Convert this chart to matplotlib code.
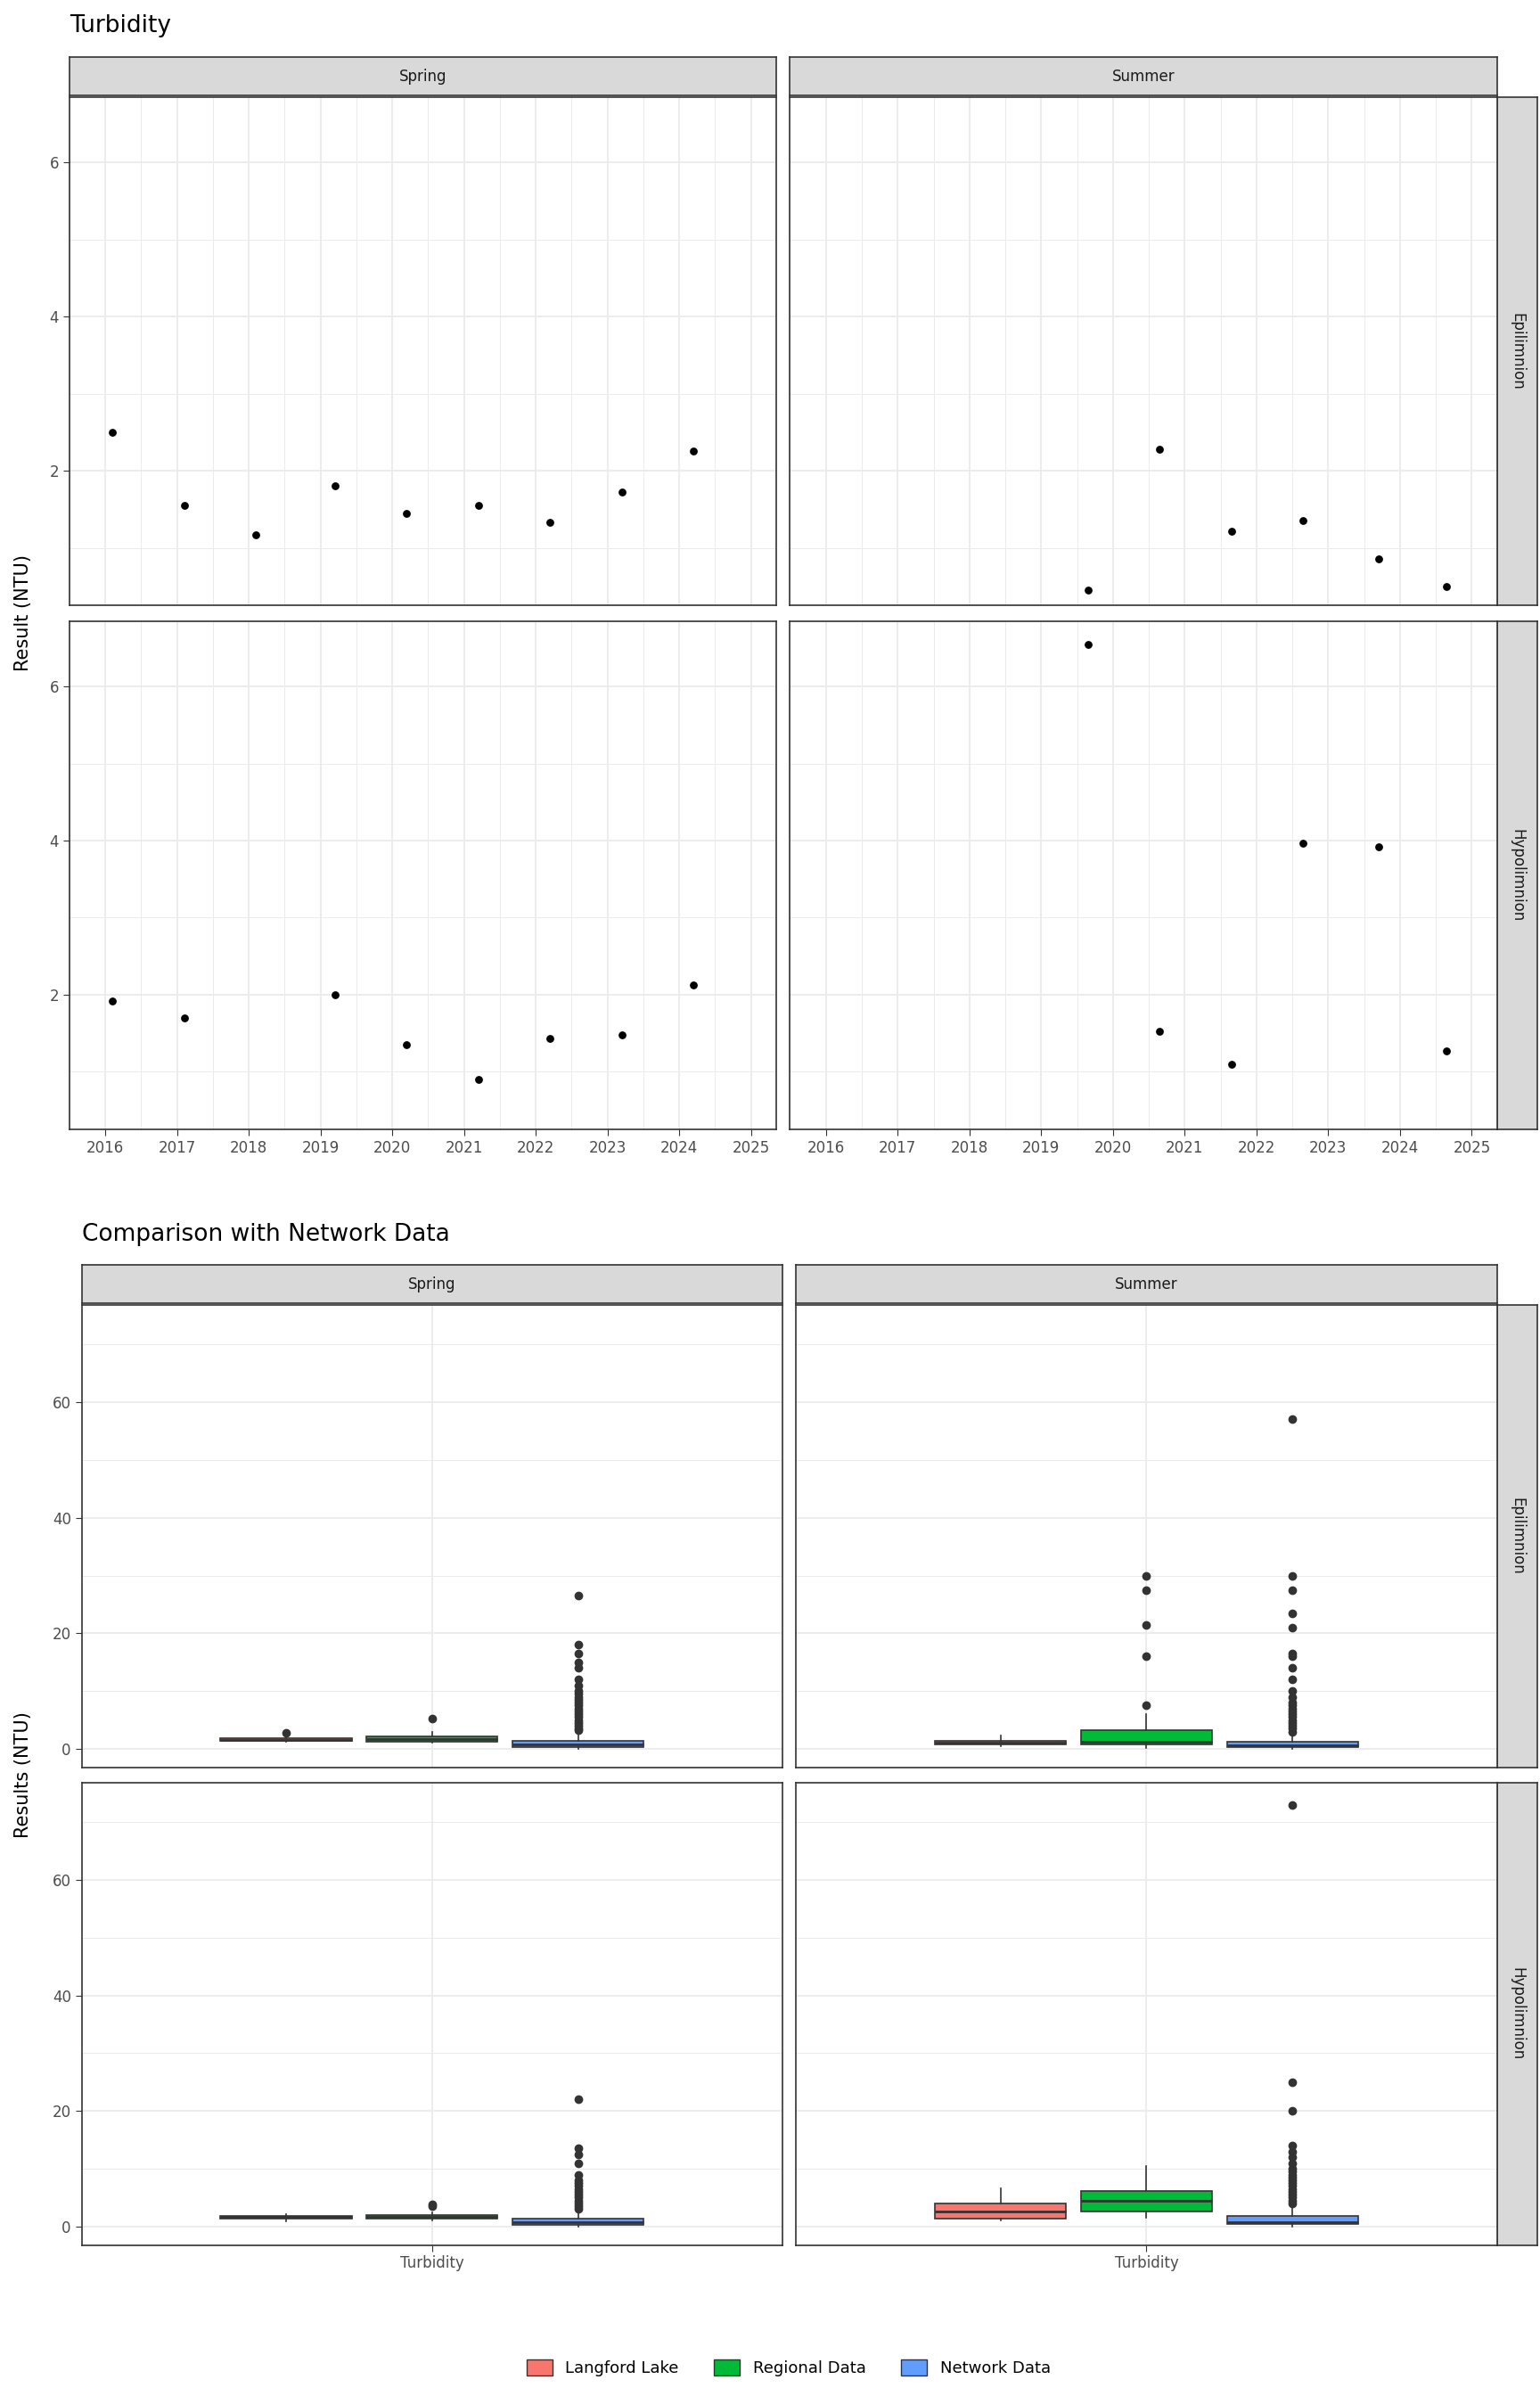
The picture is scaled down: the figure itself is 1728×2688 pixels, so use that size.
import matplotlib
matplotlib.use("Agg")
import matplotlib.pyplot as plt
from matplotlib.patches import Patch, Rectangle

# ---------------- data ----------------
seasons = ["Spring", "Summer"]
layers = ["Epilimnion", "Hypolimnion"]
year_ticks = [2016, 2017, 2018, 2019, 2020, 2021, 2022, 2023, 2024, 2025]

spring_epi_x = [2016.1, 2017.1, 2018.1, 2019.2, 2020.2, 2021.2, 2022.2, 2023.2, 2024.2]
spring_epi_y = [2.5, 1.55, 1.17, 1.8, 1.45, 1.55, 1.33, 1.72, 2.25]
summer_epi_x = [2019.65, 2020.65, 2021.65, 2022.65, 2023.7, 2024.65]
summer_epi_y = [0.45, 2.28, 1.22, 1.35, 0.85, 0.5]
spring_hypo_x = [2016.1, 2017.1, 2019.2, 2020.2, 2021.2, 2022.2, 2023.2, 2024.2]
spring_hypo_y = [1.92, 1.7, 2.0, 1.35, 0.9, 1.43, 1.48, 2.12]
summer_hypo_x = [2019.65, 2020.65, 2021.65, 2022.65, 2023.7, 2024.65]
summer_hypo_y = [6.55, 1.52, 1.1, 3.97, 3.92, 1.27]

groups = ["Langford Lake", "Regional Data", "Network Data"]
group_colors = ["#F8766D", "#00BA38", "#619CFF"]

# (whislo, q1, med, q3, whishi, outliers) per group, per panel
box_spring_epi = [
    (1.2, 1.4, 1.6, 1.8, 2.0, [2.7]),
    (1.0, 1.3, 1.7, 2.2, 3.0, [5.3]),
    (0.0, 0.3, 0.7, 1.4, 3.0, [3.2, 3.6, 4.0, 4.5, 5, 5.5, 6, 6.5, 7, 7.5, 8, 8.5, 9, 9.5, 10, 11, 12, 14, 15, 16.5, 18, 26.5]),
]
box_summer_epi = [
    (0.45, 0.8, 1.1, 1.4, 2.3, []),
    (0.2, 0.8, 1.3, 3.2, 6.0, [7.5, 16, 21.5, 27.5, 30]),
    (0.0, 0.3, 0.6, 1.2, 2.5, [3, 3.5, 4, 4.5, 5, 5.5, 6, 6.5, 7, 7.5, 8, 9, 10, 12, 14, 16, 16.5, 21, 23.5, 27.5, 30, 57]),
]
box_spring_hypo = [
    (0.9, 1.4, 1.6, 1.9, 2.1, []),
    (1.0, 1.3, 1.6, 2.0, 2.5, [3.5, 3.8]),
    (0.0, 0.3, 0.7, 1.4, 2.8, [3, 3.5, 4, 4.5, 5, 5.5, 6, 6.5, 7, 7.5, 8, 9, 11, 12.5, 13.5, 22]),
]
box_summer_hypo = [
    (1.1, 1.3, 2.6, 3.95, 6.55, []),
    (1.5, 2.6, 4.5, 6.2, 10.5, []),
    (0.0, 0.4, 0.8, 1.9, 3.5, [4, 4.5, 5, 5.5, 6, 6.5, 7, 7.5, 8, 8.5, 9, 9.5, 10, 11, 12, 13, 14, 20, 25, 73]),
]

# ---------------- helpers ----------------
W, H = 1000.0, 1555.0
fig = plt.figure(figsize=(17.28, 26.88), dpi=100)


def ax_at(x0, y0, x1, y1):
    return fig.add_axes([x0 / W, 1 - y1 / H, (x1 - x0) / W, (y1 - y0) / H])


def strip(x0, y0, x1, y1, text, rot=0):
    a = ax_at(x0, y0, x1, y1)
    a.set_xticks([]); a.set_yticks([])
    a.set_facecolor("#D9D9D9")
    for s in a.spines.values():
        s.set_color("#333333"); s.set_linewidth(1.2)
    a.text(0.5, 0.5, text, ha="center", va="center", rotation=rot,
           fontsize=12, color="#1A1A1A", transform=a.transAxes)


def style(a):
    a.set_facecolor("white")
    for s in a.spines.values():
        s.set_color("#333333"); s.set_linewidth(1.2)
    a.grid(True, which="major", color="#EBEBEB", linewidth=1.3)
    a.grid(True, which="minor", color="#EBEBEB", linewidth=0.7)
    a.set_axisbelow(True)
    a.tick_params(which="major", length=5, color="#333333", labelsize=12, labelcolor="#4D4D4D")
    a.tick_params(which="minor", length=0)


# ---------------- top chart ----------------
fig.text(45 / W, 1 - 17 / H, "Turbidity", fontsize=19, va="center", ha="left")
cols = [(45, 504), (513, 972)]
rows = [(63, 393), (403, 733)]
top_data = {(0, 0): (spring_epi_x, spring_epi_y), (0, 1): (summer_epi_x, summer_epi_y),
            (1, 0): (spring_hypo_x, spring_hypo_y), (1, 1): (summer_hypo_x, summer_hypo_y)}
for ci, (x0, x1) in enumerate(cols):
    strip(x0, 37, x1, 62, seasons[ci])
for ri, (y0, y1) in enumerate(rows):
    strip(972, y0, 998, y1, layers[ri], rot=-90)
    for ci, (x0, x1) in enumerate(cols):
        a = ax_at(x0, y0, x1, y1)
        style(a)
        xs, ys = top_data[(ri, ci)]
        a.scatter(xs, ys, s=28, color="black", zorder=3)
        a.set_xlim(2015.55, 2025.35)
        a.set_ylim(0.25, 6.85)
        a.set_xticks(year_ticks)
        a.set_xticks([y + 0.5 for y in year_ticks[:-1]] + [2015.5], minor=True)
        a.set_yticks([2, 4, 6])
        a.set_yticks([1, 3, 5], minor=True)
        if ri == 0:
            a.tick_params(axis="x", which="major", length=0, labelbottom=False)
        if ci == 1:
            a.tick_params(axis="y", which="major", length=0, labelleft=False)
fig.text(15 / W, 1 - 398 / H, "Result (NTU)", rotation=90, fontsize=15, va="center", ha="center")

# ---------------- bottom chart ----------------
fig.text(53 / W, 1 - 801 / H, "Comparison with Network Data", fontsize=19, va="center", ha="left")
cols2 = [(53, 508), (517, 972)]
rows2 = [(847, 1147), (1157, 1457)]
box_data = {(0, 0): box_spring_epi, (0, 1): box_summer_epi,
            (1, 0): box_spring_hypo, (1, 1): box_summer_hypo}
positions = [0.75, 1.0, 1.25]
for ci, (x0, x1) in enumerate(cols2):
    strip(x0, 821, x1, 846, seasons[ci])
for ri, (y0, y1) in enumerate(rows2):
    strip(972, y0, 998, y1, layers[ri], rot=-90)
    for ci, (x0, x1) in enumerate(cols2):
        a = ax_at(x0, y0, x1, y1)
        style(a)
        stats = []
        for g, (lo, q1, med, q3, hi, fl) in zip(groups, box_data[(ri, ci)]):
            stats.append(dict(whislo=lo, q1=q1, med=med, q3=q3, whishi=hi, fliers=fl, label=g))
        bp = a.bxp(stats, positions=positions, widths=0.225, patch_artist=True,
                   showcaps=False, manage_ticks=False,
                   boxprops=dict(edgecolor="#333333", linewidth=1.2),
                   medianprops=dict(color="#333333", linewidth=2),
                   whiskerprops=dict(color="#333333", linewidth=1.2),
                   flierprops=dict(marker="o", markersize=6, markerfacecolor="#333333",
                                   markeredgecolor="#333333"))
        for patch, c in zip(bp["boxes"], group_colors):
            patch.set_facecolor(c)
        a.set_xlim(0.4, 1.6)
        a.set_ylim(-3.2, 76.8)
        a.set_xticks([1])
        a.set_xticklabels(["Turbidity"])
        a.set_yticks([0, 20, 40, 60])
        a.set_yticks([10, 30, 50, 70], minor=True)
        if ri == 0:
            a.tick_params(axis="x", which="major", length=0, labelbottom=False)
        if ci == 1:
            a.tick_params(axis="y", which="major", length=0, labelleft=False)
fig.text(15 / W, 1 - 1152 / H, "Results (NTU)", rotation=90, fontsize=15, va="center", ha="center")

handles = [Patch(facecolor=c, edgecolor="#333333", label=g) for g, c in zip(groups, group_colors)]
fig.legend(handles=handles, loc="center", bbox_to_anchor=(0.512, 1 - 1537 / H), ncol=3,
           frameon=False, fontsize=13, handlelength=1.6, handleheight=1.1, columnspacing=2.2)

fig.savefig("out.png", dpi=100, facecolor="white")
